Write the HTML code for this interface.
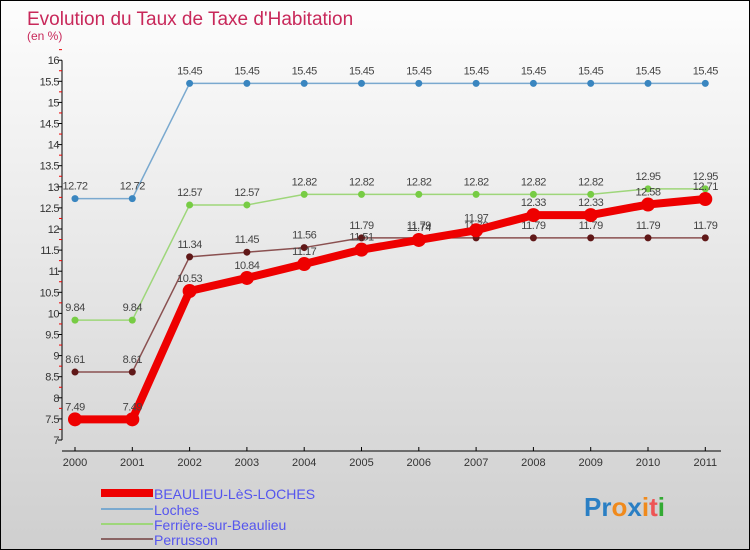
<!DOCTYPE html>
<html><head><meta charset="utf-8"><style>
body{margin:0}
#c{width:748px;height:548px;border:1px solid #000;background:linear-gradient(#fdfdfd,#cfcfcf);position:relative;font-family:"Liberation Sans",sans-serif;overflow:hidden}
</style></head><body>
<div id="c">
<svg id="s" width="748" height="548" xmlns="http://www.w3.org/2000/svg">
<text x="26" y="24" font-size="19" fill="#c8285a">Evolution du Taux de Taxe d'Habitation</text>
<text x="26" y="39" font-size="12" fill="#c8285a">(en %)</text>
<g id="axes"></g><g id="series"></g>
<g>
<rect x="100" y="488" width="52" height="8" fill="#e00"/>
<text x="153" y="498" font-size="14" fill="#5555ee">BEAULIEU-LèS-LOCHES</text>
<line x1="100" y1="508" x2="152" y2="508" stroke="#7aa9cf" stroke-width="2"/>
<text x="153" y="514" font-size="14" fill="#5555ee">Loches</text>
<line x1="100" y1="523" x2="152" y2="523" stroke="#9ed67a" stroke-width="2"/>
<text x="153" y="529" font-size="14" fill="#5555ee">Ferrière-sur-Beaulieu</text>
<line x1="100" y1="538" x2="152" y2="538" stroke="#8a6464" stroke-width="2"/>
<text x="153" y="544" font-size="14" fill="#5555ee">Perrusson</text>
</g>
<text x="583" y="515" font-size="26" font-weight="bold"><tspan fill="#2a7fc4">Pr</tspan><tspan fill="#f08a1c">o</tspan><tspan fill="#2a7fc4">x</tspan><tspan fill="#f08a1c">i</tspan><tspan fill="#e55">t</tspan><tspan fill="#3a3">i</tspan></text>
</svg></div>
<script>
const years=[2000,2001,2002,2003,2004,2005,2006,2007,2008,2009,2010,2011];
const beaulieu=[7.49,7.49,10.53,10.84,11.17,11.51,11.74,11.97,12.33,12.33,12.58,12.71];
const loches=[12.72,12.72,15.45,15.45,15.45,15.45,15.45,15.45,15.45,15.45,15.45,15.45];
const ferriere=[9.84,9.84,12.57,12.57,12.82,12.82,12.82,12.82,12.82,12.82,12.95,12.95];
const perrusson=[8.61,8.61,11.34,11.45,11.56,11.79,11.79,11.79,11.79,11.79,11.79,11.79];
const yTicks=[7,7.5,8,8.5,9,9.5,10,10.5,11,11.5,12,12.5,13,13.5,14,14.5,15,15.5,16];
const NS="http://www.w3.org/2000/svg";
const X=i=>74+i*57.3, Y=v=>439-(v-7)*42.2;
function mk(p,t,a){const e=document.createElementNS(NS,t);for(const k in a)e.setAttribute(k,a[k]);p.appendChild(e);return e;}
const ax=document.getElementById('axes'), sg=document.getElementById('series');
let yl=mk(ax,'line',{x1:61,y1:Y(16),x2:61,y2:Y(7),stroke:'#000'});

yTicks.forEach(v=>{mk(ax,'line',{x1:57,y1:Y(v),x2:61,y2:Y(v),stroke:'#000'});
 mk(ax,'line',{x1:58,y1:Y(v+0.25),x2:61,y2:Y(v+0.25),stroke:'#e00'});
 const t=mk(ax,'text',{x:58,y:Y(v)+4,'font-size':11,'text-anchor':'end',fill:'#333','letter-spacing':'-0.5'});t.textContent=v;
 });
let xl=mk(ax,'line',{x1:61,y1:450,x2:720,y2:450,stroke:'#000'});

years.forEach((y,i)=>{mk(ax,'line',{x1:X(i),y1:446,x2:X(i),y2:450,stroke:'#000'});
 const t=mk(ax,'text',{x:X(i),y:465,'font-size':11,'text-anchor':'middle',fill:'#333'});t.textContent=y;
 });
function series(d,col,w,r,name){const g=mk(sg,'g',{});
 
 mk(g,'polyline',{points:d.map((v,i)=>X(i)+','+Y(v)).join(' '),fill:'none',stroke:col,'stroke-width':w,'stroke-linejoin':'round'});
 d.forEach((v,i)=>{const c=mk(g,'circle',{cx:X(i),cy:Y(v),r:r,fill:col});
  
  const t=mk(g,'text',{x:X(i),y:Y(v)-9,'font-size':11,'text-anchor':'middle',fill:'#444','letter-spacing':'-0.5'});t.textContent=v;
  });}
series(loches,'#7aa9cf',1.5,3.5,'loches');
series(ferriere,'#9ed67a',1.5,3.5,'ferriere');
series(perrusson,'#8a5050',1.5,3.5,'perrusson');
series(beaulieu,'#e00',8,7,'beaulieu');
sg.querySelectorAll('circle').forEach(c=>{if(c.getAttribute('fill')=='#7aa9cf')c.setAttribute('fill','#3a86c0');if(c.getAttribute('fill')=='#9ed67a')c.setAttribute('fill','#77cc44');if(c.getAttribute('fill')=='#8a5050')c.setAttribute('fill','#601818');});
</script>
</body></html>
